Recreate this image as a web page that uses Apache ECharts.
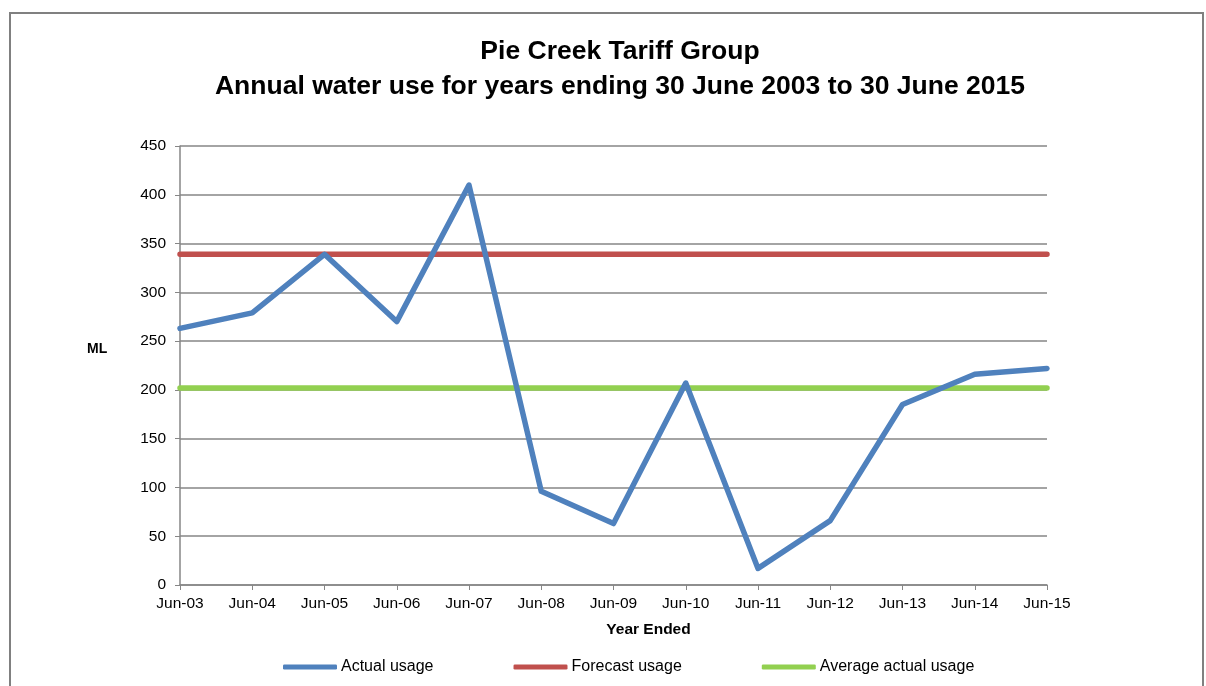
<!DOCTYPE html>
<html><head><meta charset="utf-8">
<script src="https://cdn.jsdelivr.net/npm/echarts@6/dist/echarts.min.js"></script>
<style>html,body{margin:0;padding:0;background:#fff}#c{width:1206px;height:686px}</style>
</head><body><div id="c"></div>
<script>
const categories = ['Jun-03','Jun-04','Jun-05','Jun-06','Jun-07','Jun-08','Jun-09','Jun-10','Jun-11','Jun-12','Jun-13','Jun-14','Jun-15'];
const actualUsage = [263, 279, 339, 270, 410, 96, 63, 207, 17, 66, 185, 216, 222];
const forecastUsage = [339, 339, 339, 339, 339, 339, 339, 339, 339, 339, 339, 339, 339];
const averageUsage = [202, 202, 202, 202, 202, 202, 202, 202, 202, 202, 202, 202, 202];
const seriesNames = ['Actual usage', 'Forecast usage', 'Average actual usage'];
const colors = ['#4F81BD', '#C0504D', '#92D050'];

const chart = echarts.init(document.getElementById('c'));
const font = 'Liberation Sans, Arial, sans-serif';
chart.setOption({
  animation: false,
  textStyle: { fontFamily: font },
  graphic: [{
    type: 'rect', shape: { x: 10, y: 13, width: 1193, height: 690 },
    style: { fill: 'none', stroke: '#808080', lineWidth: 2 }, silent: true
  }, {
    type: 'text', left: 87, top: 342,
    style: { text: 'ML', fontFamily: font, fontSize: 14, fontWeight: 'bold', fill: '#000' }
  }],
  title: {
    text: 'Pie Creek Tariff Group\nAnnual water use for years ending 30 June 2003 to 30 June 2015',
    left: 615, top: 29, textAlign: 'center',
    textStyle: { fontFamily: font, fontSize: 26.5, fontWeight: 'bold', color: '#000', lineHeight: 35 }
  },
  legend: {
    bottom: 6, left: 278, itemWidth: 54, itemHeight: 5, itemGap: 80,
    icon: 'roundRect',
    textStyle: { fontFamily: font, fontSize: 16, color: '#000', padding: [0, 0, 0, -1] },
    data: seriesNames
  },
  grid: { left: 180, right: 159, top: 146, bottom: 101 },
  xAxis: {
    type: 'category', data: categories, boundaryGap: false,
    name: 'Year Ended', nameLocation: 'middle', nameGap: 37,
    nameTextStyle: { fontFamily: font, fontSize: 15.5, fontWeight: 'bold', color: '#000', padding: [0, 0, 0, 70] },
    axisLine: { lineStyle: { color: '#868686', width: 1.5 } },
    axisTick: { show: true, alignWithLabel: true, length: 5, lineStyle: { color: '#868686' } },
    axisLabel: { fontFamily: font, fontSize: 15.5, color: '#000', margin: 11, interval: 0 },
    splitLine: { show: false }
  },
  yAxis: {
    type: 'value', min: 0, max: 450, interval: 50,
    axisLine: { show: true, lineStyle: { color: '#868686', width: 1.5 } },
    axisTick: { show: true, length: 5, lineStyle: { color: '#868686' } },
    axisLabel: { fontFamily: font, fontSize: 15.5, color: '#000', margin: 14 },
    splitLine: { lineStyle: { color: '#868686', width: 1.5 } }
  },
  series: [
    { name: seriesNames[0], type: 'line', data: actualUsage, symbol: 'none', z: 4,
      lineStyle: { width: 5.5, color: colors[0], cap: 'round', join: 'round' }, itemStyle: { color: colors[0] } },
    { name: seriesNames[1], type: 'line', data: forecastUsage, symbol: 'none', z: 3,
      lineStyle: { width: 5.5, color: colors[1], cap: 'round' }, itemStyle: { color: colors[1] } },
    { name: seriesNames[2], type: 'line', data: averageUsage, symbol: 'none', z: 3,
      lineStyle: { width: 5.5, color: colors[2], cap: 'round' }, itemStyle: { color: colors[2] } }
  ]
});
</script></body></html>
